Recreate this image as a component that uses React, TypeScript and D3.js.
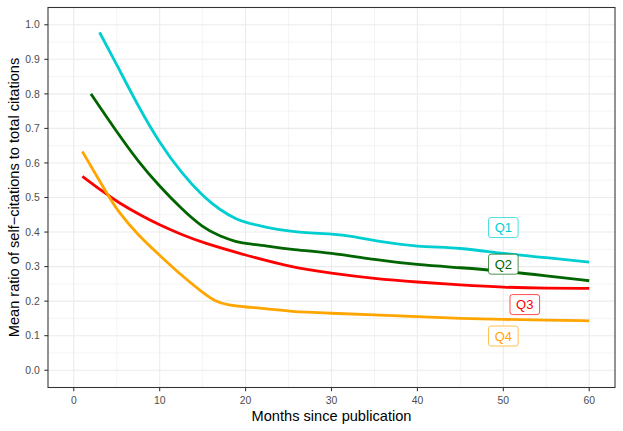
import React, { FC, useMemo } from "react";
import * as d3 from "d3";

// months at which the smoothed curves were read, and the mean ratios
const q1Months = [3, 5, 7.5, 10, 12.5, 15, 17, 19, 20, 22.5, 25, 27.5, 30, 32.5, 35, 40, 45, 50, 55, 60];
const q1Values = [0.978, 0.885, 0.764, 0.657, 0.572, 0.504, 0.464, 0.436, 0.428, 0.413, 0.403, 0.397, 0.395, 0.388, 0.374, 0.357, 0.355, 0.337, 0.326, 0.313];

const q2Months = [2, 5, 7.5, 10, 12.5, 15, 17, 19, 20, 22.5, 25, 30, 35, 40, 45, 50, 55, 60];
const q2Values = [0.8, 0.69, 0.604, 0.532, 0.468, 0.413, 0.388, 0.371, 0.367, 0.36, 0.35, 0.34, 0.32, 0.305, 0.297, 0.287, 0.273, 0.259];

const q3Months = [1, 4, 5, 7.5, 10, 12.5, 15, 20, 25, 30, 35, 40, 45, 50, 55, 60];
const q3Values = [0.561, 0.506, 0.489, 0.452, 0.42, 0.393, 0.369, 0.333, 0.3, 0.28, 0.265, 0.255, 0.247, 0.24, 0.237, 0.237];

const q4Months = [1, 4, 5, 7.5, 10, 12.5, 15, 16.4, 18, 20, 22.5, 25, 30, 35, 40, 45, 50, 55, 60];
const q4Values = [0.633, 0.506, 0.465, 0.39, 0.333, 0.275, 0.225, 0.2, 0.188, 0.183, 0.178, 0.17, 0.165, 0.16, 0.155, 0.15, 0.147, 0.145, 0.143];

const seriesNames = ["Q1", "Q2", "Q3", "Q4"];
const seriesColors = ["#00CED1", "#006400", "#FF0000", "#FFA500"];
const labelMonths = [50, 50, 52.5, 50];
const labelValues = [0.413, 0.307, 0.19, 0.099];

const xTicks = [0, 10, 20, 30, 40, 50, 60];
const xMinor = [5, 15, 25, 35, 45, 55];
const yTicks = [0, 0.1, 0.2, 0.3, 0.4, 0.5, 0.6, 0.7, 0.8, 0.9, 1.0];
const yMinor = [0.05, 0.15, 0.25, 0.35, 0.45, 0.55, 0.65, 0.75, 0.85, 0.95];

const font = "'Liberation Sans', Arial, Helvetica, sans-serif";

const Chart: FC<any> = (props: any) => {
    const {
        width = 623,
        height = 431,
        marginTop = 7.5,
        marginRight = 8,
        marginBottom = 43.5,
        marginLeft = 48,
    } = props;

    const series = useMemo(
        () =>
            [
                [q1Months, q1Values],
                [q2Months, q2Values],
                [q3Months, q3Values],
                [q4Months, q4Values],
            ].map(([ms, vs], i) => ({
                name: seriesNames[i],
                color: seriesColors[i],
                points: ms.map((m, j) => ({ month: m, value: vs[j] })),
                label: { month: labelMonths[i], value: labelValues[i] },
            })),
        []
    );

    const x = useMemo(
        () => d3.scaleLinear([-3, 63], [marginLeft, width - marginRight]),
        [width, marginLeft, marginRight]
    );
    const y = useMemo(
        () => d3.scaleLinear([-0.05, 1.05], [height - marginBottom, marginTop]),
        [height, marginBottom, marginTop]
    );

    const line = d3
        .line<any>()
        .curve(d3.curveBasis)
        .x((d: any) => x(d.month))
        .y((d: any) => y(d.value));

    const left = marginLeft;
    const right = width - marginRight;
    const top = marginTop;
    const bottom = height - marginBottom;

    return (
        <svg
            width={width}
            height={height}
            style={{ position: "absolute", top: 0, left: 0, background: "#fff" }}
            fontFamily={font}
        >
            <rect x={0} y={0} width={width} height={height} fill="#fff" />
            {/* grid */}
            <g>
                {yMinor.map((d) => (
                    <line key={`ym${d}`} x1={left} x2={right} y1={y(d)} y2={y(d)} stroke="#EBEBEB" strokeWidth={0.55} />
                ))}
                {xMinor.map((d) => (
                    <line key={`xm${d}`} x1={x(d)} x2={x(d)} y1={top} y2={bottom} stroke="#EBEBEB" strokeWidth={0.55} />
                ))}
                {yTicks.map((d) => (
                    <line key={`y${d}`} x1={left} x2={right} y1={y(d)} y2={y(d)} stroke="#EBEBEB" strokeWidth={1.07} />
                ))}
                {xTicks.map((d) => (
                    <line key={`x${d}`} x1={x(d)} x2={x(d)} y1={top} y2={bottom} stroke="#EBEBEB" strokeWidth={1.07} />
                ))}
            </g>
            {/* curves */}
            <g>
                {series.map((s) => (
                    <path
                        key={s.name}
                        d={line(s.points) || ""}
                        fill="none"
                        stroke={s.color}
                        strokeWidth={2.8}
                        strokeLinejoin="round"
                    />
                ))}
            </g>
            {/* labels */}
            <g>
                {series.map((s) => (
                    <g key={s.name} transform={`translate(${x(s.label.month)},${y(s.label.value)})`}>
                        <rect x={-14.8} y={-10} width={29.6} height={20} rx={2.5} fill="#fff" stroke={s.color} strokeWidth={0.7} />
                        <text textAnchor="middle" dy="0.36em" fontSize={13} fill={s.color}>
                            {s.name}
                        </text>
                    </g>
                ))}
            </g>
            {/* panel border */}
            <rect x={left} y={top} width={right - left} height={bottom - top} fill="none" stroke="#333333" strokeWidth={1.07} />
            {/* y axis */}
            <g>
                {yTicks.map((d) => (
                    <g key={d}>
                        <line x1={left - 3.7} x2={left} y1={y(d)} y2={y(d)} stroke="#333333" strokeWidth={1.07} />
                        <text x={left - 8.3} y={y(d)} dy="0.35em" textAnchor="end" fontSize={10.4} fill="#4D4D4D">
                            {d.toFixed(1)}
                        </text>
                    </g>
                ))}
            </g>
            {/* x axis */}
            <g>
                {xTicks.map((d) => (
                    <g key={d}>
                        <line x1={x(d)} x2={x(d)} y1={bottom} y2={bottom + 3.7} stroke="#333333" strokeWidth={1.07} />
                        <text x={x(d)} y={bottom + 16.3} textAnchor="middle" fontSize={10.4} fill="#4D4D4D">
                            {d}
                        </text>
                    </g>
                ))}
            </g>
            <text x={(left + right) / 2} y={height - 10.5} textAnchor="middle" fontSize={14.6} fill="#000">
                Months since publication
            </text>
            <text
                transform={`translate(${19},${(top + bottom) / 2}) rotate(-90)`}
                textAnchor="middle"
                fontSize={14.6}
                fill="#000"
            >
                Mean ratio of self−citations to total citations
            </text>
        </svg>
    );
};

export default function App() {
    return <Chart />;
}
